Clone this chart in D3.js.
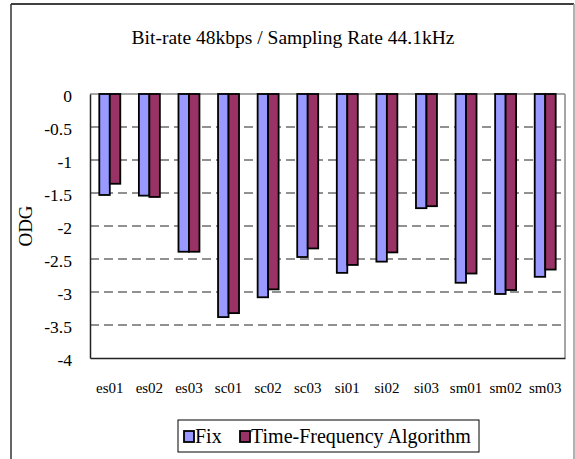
<!DOCTYPE html>
<html>
<head>
<meta charset="utf-8">
<script src="https://cdn.jsdelivr.net/npm/d3@7"></script>
<style>
  html, body { margin: 0; padding: 0; background: #fff; }
  svg text { font-family: "Liberation Serif", "DejaVu Serif", serif; fill: #000; }
</style>
</head>
<body>
<svg id="chart" width="575" height="459"></svg>
<script>
"use strict";

// data
var categories = ["es01", "es02", "es03", "sc01", "sc02", "sc03", "si01", "si02", "si03", "sm01", "sm02", "sm03"];
var seriesNames = ["Fix", "Time-Frequency Algorithm"];
var fixValues = [-1.53, -1.54, -2.39, -3.38, -3.08, -2.47, -2.71, -2.54, -1.73, -2.86, -3.03, -2.77];
var tfValues = [-1.36, -1.56, -2.39, -3.32, -2.96, -2.34, -2.59, -2.40, -1.70, -2.72, -2.97, -2.66];
var yTicks = [0, -0.5, -1, -1.5, -2, -2.5, -3, -3.5, -4];
var colors = ["#9999ff", "#993366"];

var serif = "Liberation Serif, DejaVu Serif, serif";
var svg = d3.select("#chart");

// outer chart frame
svg.append("line").attr("x1", 11).attr("y1", 4).attr("x2", 574).attr("y2", 4)
  .attr("stroke", "#000").attr("stroke-width", 1.5);
svg.append("line").attr("x1", 11).attr("y1", 4).attr("x2", 11).attr("y2", 459)
  .attr("stroke", "#333").attr("stroke-width", 1.5);
svg.append("line").attr("x1", 574).attr("y1", 4).attr("x2", 574).attr("y2", 459)
  .attr("stroke", "#999").attr("stroke-width", 1.5);

// title
svg.append("text")
  .attr("x", 293).attr("y", 44)
  .attr("text-anchor", "middle")
  .attr("font-family", serif)
  .attr("font-size", "19.5px")
  .text("Bit-rate 48kbps / Sampling Rate 44.1kHz");

var plotLeft = 90, plotRight = 565, plotTop = 94, plotBottom = 358;

var x0 = d3.scaleBand()
  .domain(categories)
  .range([plotLeft, plotRight])
  .paddingInner(0.47)
  .paddingOuter(0.235);

var x1 = d3.scaleBand()
  .domain(seriesNames)
  .range([0, x0.bandwidth()]);

var y = d3.scaleLinear()
  .domain([0, -4])
  .range([plotTop, plotBottom]);

// dashed gridlines
svg.append("g").selectAll("line")
  .data(yTicks.filter(function (d) { return d !== 0 && d !== -4; }))
  .enter().append("line")
    .attr("x1", plotLeft).attr("x2", plotRight)
    .attr("y1", function (d) { return y(d); })
    .attr("y2", function (d) { return y(d); })
    .attr("stroke", "#222")
    .attr("stroke-width", 1)
    .attr("stroke-dasharray", "9,5");

// plot frame: top and right grey
svg.append("line").attr("x1", plotLeft).attr("y1", plotTop).attr("x2", plotRight).attr("y2", plotTop)
  .attr("stroke", "#888").attr("stroke-width", 1.5);
svg.append("line").attr("x1", plotRight).attr("y1", plotTop).attr("x2", plotRight).attr("y2", plotBottom)
  .attr("stroke", "#888").attr("stroke-width", 1.5);

// bars
var rows = categories.map(function (c, i) {
  return { cat: c, vals: [fixValues[i], tfValues[i]] };
});

var groups = svg.append("g").selectAll("g")
  .data(rows)
  .enter().append("g")
    .attr("transform", function (d) { return "translate(" + x0(d.cat) + ",0)"; });

groups.selectAll("rect")
  .data(function (d) {
    return d.vals.map(function (v, j) { return { name: seriesNames[j], value: v, idx: j }; });
  })
  .enter().append("rect")
    .attr("x", function (d) { return x1(d.name); })
    .attr("y", y(0))
    .attr("width", x1.bandwidth())
    .attr("height", function (d) { return y(d.value) - y(0); })
    .attr("fill", function (d) { return colors[d.idx]; })
    .attr("stroke", "#000")
    .attr("stroke-width", 1.8);

// left and bottom axes
var yAxis = svg.append("g")
  .attr("transform", "translate(" + plotLeft + ",0)")
  .call(d3.axisLeft(y).tickValues(yTicks).tickSize(0).tickPadding(18)
    .tickFormat(function (d) { return String(d); }));
yAxis.attr("font-family", serif).attr("font-size", "17.5px");
yAxis.select(".domain").attr("stroke", "#222").attr("stroke-width", 1.5);
yAxis.selectAll("text").attr("dy", "0.45em");

var xAxis = svg.append("g")
  .attr("transform", "translate(0," + plotBottom + ")")
  .call(d3.axisBottom(x0).tickSize(0).tickPadding(24));
xAxis.attr("font-family", serif).attr("font-size", "15px");
xAxis.select(".domain").attr("stroke", "#222").attr("stroke-width", 1.5);

// y axis title
svg.append("text")
  .attr("transform", "translate(32,226) rotate(-90)")
  .attr("text-anchor", "middle")
  .attr("font-family", serif)
  .attr("font-size", "19px")
  .text("ODG");

// legend
var legend = svg.append("g");
legend.append("rect")
  .attr("x", 178).attr("y", 420).attr("width", 301).attr("height", 32)
  .attr("fill", "#fff").attr("stroke", "#000").attr("stroke-width", 1);

var legendX = [184, 240];
var items = legend.selectAll("g.item")
  .data(seriesNames)
  .enter().append("g")
    .attr("class", "item")
    .attr("transform", function (d, i) { return "translate(" + legendX[i] + ",431)"; });
items.append("rect")
  .attr("width", 10).attr("height", 11)
  .attr("fill", function (d, i) { return colors[i]; })
  .attr("stroke", "#000").attr("stroke-width", 1.8);
items.append("text")
  .attr("x", 11).attr("y", 12)
  .attr("font-family", serif)
  .attr("font-size", "20px")
  .text(function (d) { return d; });
</script>
</body>
</html>
